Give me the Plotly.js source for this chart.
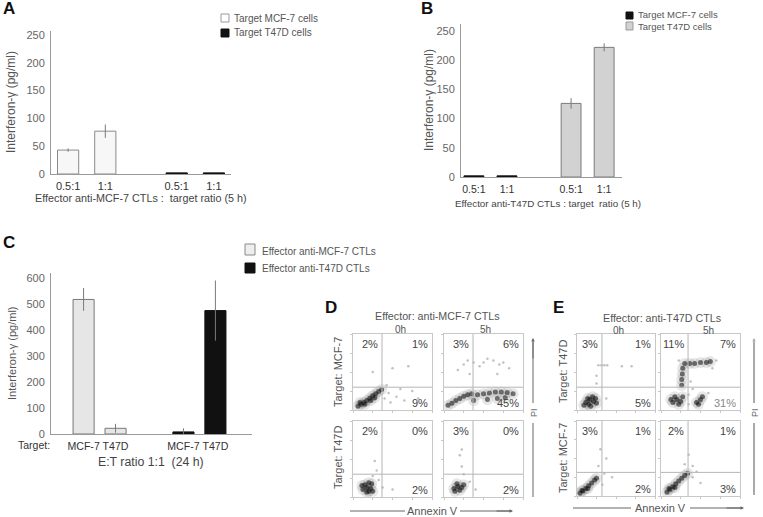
<!DOCTYPE html>
<html><head><meta charset="utf-8">
<script src="https://cdn.plot.ly/plotly-3.0.1.min.js"></script>
<style>html,body{margin:0;padding:0;background:#fff}#chart{width:763px;height:517px}</style>
</head><body><div id="chart"></div>
<script>
// ---------------- data ----------------
const ratioLabels = ["0.5:1", "1:1"];
const aTargetMCF7 = [43, 77];
const aTargetMCF7Err = [3, 12];
const aTargetT47D = [2, 2];
const bTargetMCF7 = [2, 2];
const bTargetT47D = [126, 222];
const bTargetT47DErr = [9, 7];
const targetLabels = ["MCF-7", "T47D"];
const cAntiMCF7 = [519, 22];
const cAntiMCF7Err = [44, 17];
const cAntiT47D = [8, 476];
const cAntiT47DErr = [14, 116];
const yTicksAB = [0, 50, 100, 150, 200, 250];
const yTicksC = [0, 100, 200, 300, 400, 500, 600];

// flow cytometry quadrant percentages [upper-left, upper-right, lower-right]
const dMCF7_0h = ["2%", "1%", "9%"];
const dMCF7_5h = ["3%", "6%", "45%"];
const dT47D_0h = ["2%", "0%", "2%"];
const dT47D_5h = ["3%", "0%", "2%"];
const eT47D_0h = ["3%", "1%", "5%"];
const eT47D_5h = ["11%", "7%", "31%"];
const eMCF7_0h = ["3%", "1%", "2%"];
const eMCF7_5h = ["2%", "1%", "3%"];

// approximate event clusters (log decades 0-4)
const dMCF7_0hDense = [[0.25,0.2],[0.4,0.3],[0.55,0.4],[0.7,0.5],[0.85,0.62],[1.0,0.75],[1.15,0.85],[1.3,0.98],[1.45,1.08],[0.35,0.4],[0.6,0.3],[0.9,0.5],[1.1,0.65]];
const dMCF7_0hFaint = [[1.8,0.9],[2.2,0.7],[2.6,0.5],[1.7,1.3],[2.0,2.2],[2.8,2.3],[1.0,2.0],[3.0,1.0],[2.4,1.1],[1.6,0.6],[1.9,0.4],[3.3,0.6]];
const dMCF7_5hDense = [[0.2,0.25],[0.4,0.35],[0.6,0.5],[0.8,0.6],[1.0,0.72],[1.2,0.8],[1.4,0.85],[1.7,0.8],[2.0,0.85],[2.3,0.9],[2.6,0.95],[2.9,0.95],[3.2,0.92],[3.5,0.85],[2.2,0.55],[2.7,0.6],[1.5,0.5],[3.1,0.65]];
const dMCF7_5hFaint = [[1.0,2.4],[1.5,2.5],[2.0,2.5],[2.5,2.6],[3.0,2.5],[0.7,2.1],[3.3,2.2],[1.3,1.9],[2.7,1.9],[1.2,2.6],[2.2,2.7],[1.8,2.3],[2.8,2.4]];
const dT47D_0hDense = [[0.5,0.4],[0.7,0.5],[0.9,0.45],[0.6,0.65],[0.8,0.3],[0.95,0.7],[0.7,0.25],[0.45,0.6],[0.8,0.75],[1.0,0.3]];
const dT47D_0hFaint = [[1.2,1.4],[1.1,1.9],[1.5,0.5],[1.3,0.9],[2.0,0.4],[1.0,1.1]];
const dT47D_5hDense = [[0.5,0.45],[0.7,0.55],[0.9,0.5],[0.65,0.7],[0.8,0.35],[1.0,0.65],[0.55,0.3]];
const dT47D_5hFaint = [[0.9,1.6],[0.8,2.2],[1.3,0.8],[1.0,1.2],[1.6,0.4],[0.9,2.5]];
const eT47D_0hDense = [[0.45,0.4],[0.65,0.55],[0.85,0.45],[0.6,0.3],[0.8,0.7],[1.0,0.35],[0.55,0.6],[0.35,0.25],[0.95,0.6],[0.7,0.2]];
const eT47D_0hFaint = [[1.1,2.35],[1.25,2.35],[1.4,2.35],[1.55,2.35],[1.0,1.4],[2.3,2.3],[2.8,2.3],[1.5,0.6],[1.0,1.8]];
const eT47D_5hDense = [[0.6,0.4],[0.8,0.55],[1.0,0.45],[0.7,0.7],[0.9,0.3],[0.5,0.55],[1.1,0.7],[1.8,0.4],[2.0,0.55],[1.9,0.3],[2.1,0.7],[1.05,1.3],[1.05,1.6],[1.08,1.9],[1.1,2.2],[1.2,2.45],[1.45,2.45],[1.7,2.45],[2.0,2.5],[2.3,2.5],[2.5,2.55]];
const eT47D_5hFaint = [[1.4,0.8],[2.4,0.9],[1.5,1.5],[0.9,2.6],[2.6,2.2],[1.4,0.3],[1.6,1.1],[2.8,2.6]];
const eMCF7_0hDense = [[0.15,0.15],[0.3,0.27],[0.45,0.4],[0.6,0.55],[0.75,0.7],[0.9,0.85],[1.0,0.95],[0.25,0.3],[0.55,0.4]];
const eMCF7_0hFaint = [[1.4,1.2],[1.5,2.0],[1.2,2.5],[1.8,1.0],[1.1,1.6],[1.3,0.6]];
const eMCF7_5hDense = [[0.3,0.2],[0.45,0.35],[0.6,0.5],[0.75,0.65],[0.9,0.8],[1.05,0.95],[1.2,1.1],[1.35,1.22],[0.4,0.4],[0.7,0.45]];
const eMCF7_5hFaint = [[1.6,1.0],[1.8,1.3],[1.4,2.2],[2.0,0.7],[1.2,1.7],[1.6,1.6]];

// ---------------- helpers ----------------
const W = 763, H = 517;
const px = v => v / W;
const py = v => 1 - v / H;
const SANS = 'Liberation Sans, Arial, sans-serif';
const GRAY = '#555';

const traces = [];
const annotations = [];
const shapes = [];
const layout = {
  width: W, height: H, margin: {l: 0, r: 0, t: 0, b: 0},
  paper_bgcolor: '#fff', plot_bgcolor: 'rgba(0,0,0,0)',
  barmode: 'overlay', showlegend: false,
  font: {family: SANS, color: GRAY}
};

function text(x, y, t, size, opts) {
  annotations.push(Object.assign({
    xref: 'paper', yref: 'paper', x: px(x), y: py(y), text: t, showarrow: false,
    font: {family: SANS, size: size, color: GRAY}, xanchor: 'center', yanchor: 'middle'
  }, opts || {}));
}
function fnt(size, color) { return {family: SANS, size: size, color: color || GRAY}; }
function legendBox(x0, y0, x1, y1, fill, line) {
  shapes.push({type: 'rect', xref: 'paper', yref: 'paper', x0: px(x0), x1: px(x1), y0: py(y1), y1: py(y0),
    fillcolor: fill, line: {color: line, width: 1}});
}

function barPanel(id, xdom, ydom, xrange, yrange, ytickvals, labels, gap, xfont) {
  const sfx = id === 1 ? '' : String(id);
  const tv = [], tt = [];
  [0, 1].forEach(g => labels.forEach((l, i) => { tv.push(i + g * gap); tt.push(l); }));
  layout['xaxis' + sfx] = {
    domain: [px(xdom[0]), px(xdom[1])], range: xrange, anchor: 'y' + sfx,
    tickvals: tv, ticktext: tt, tickangle: 0, showline: true, linecolor: '#9a9a9a', linewidth: 1,
    showgrid: false, zeroline: false, ticks: 'outside', ticklen: 2, tickcolor: 'rgba(0,0,0,0)',
    tickfont: fnt(xfont, '#333'), fixedrange: true
  };
  layout['yaxis' + sfx] = {
    domain: [py(ydom[1]), py(ydom[0])], range: yrange, anchor: 'x' + sfx,
    tickvals: ytickvals, showline: true, linecolor: '#9a9a9a', linewidth: 1,
    showgrid: false, zeroline: false, ticks: 'outside', ticklen: 3, tickcolor: 'rgba(0,0,0,0)',
    tickfont: fnt(11, '#666'), fixedrange: true
  };
  return {x: 'x' + sfx, y: 'y' + sfx};
}

function bars(ax, group, gap, labels, vals, errs, fill, line, width) {
  const t = {
    type: 'bar', xaxis: ax.x, yaxis: ax.y,
    x: labels.map((l, i) => i + group * gap), y: vals, width: width,
    marker: {color: fill, line: {color: line, width: 1}},
    hoverinfo: 'skip'
  };
  if (errs) t.error_y = {type: 'data', array: errs, visible: true, color: '#7a7a7a', thickness: 1, width: 0};
  traces.push(t);
}

// ---------------- panel A ----------------
const GAP_A = 2.92;
const axA = barPanel(1, [51, 231], [31, 174], [-0.46, 4.38], [0, 257], yTicksAB, ratioLabels, GAP_A, 11);
bars(axA, 0, GAP_A, ratioLabels, aTargetMCF7, aTargetMCF7Err, '#f7f7f7', '#8a8a8a', 0.57);
bars(axA, 1, GAP_A, ratioLabels, aTargetT47D, null, '#111', '#111', 0.57);
text(9, 8, '<b>A</b>', 17, {font: fnt(17, '#111')});
text(11, 102, 'Interferon-γ (pg/ml)', 12, {textangle: -90});
text(141, 198, 'Effector anti-MCF-7 CTLs :  target ratio (5 h)', 11, {font: fnt(10.8, '#444')});
legendBox(221, 14, 229, 22, '#fff', '#999');
legendBox(221, 29, 229, 37, '#111', '#111');
text(232, 18, 'Target MCF-7 cells', 10, {xanchor: 'left', font: fnt(10)});
text(232, 33, 'Target T47D cells', 10, {xanchor: 'left', font: fnt(10)});

// ---------------- panel B ----------------
const GAP_B = 2.94;
const axB = barPanel(2, [461, 622], [24, 177], [-0.39, 4.48], [0, 262], yTicksAB, ratioLabels, GAP_B, 10.5);
bars(axB, 0, GAP_B, ratioLabels, bTargetMCF7, null, '#111', '#111', 0.6);
bars(axB, 1, GAP_B, ratioLabels, bTargetT47D, bTargetT47DErr, '#d2d2d2', '#7a7a7a', 0.6);
text(427, 8, '<b>B</b>', 17, {font: fnt(17, '#111')});
text(429, 100, 'Interferon-γ (pg/ml)', 12, {textangle: -90});
text(548, 203, 'Effector anti-T47D CTLs : target  ratio (5 h)', 10, {font: fnt(9.8, '#444')});
legendBox(626, 12, 633, 19, '#111', '#111');
legendBox(626, 22, 633, 30, '#d2d2d2', '#999');
text(636, 15, 'Target MCF-7 cells', 9.5, {xanchor: 'left', font: fnt(9.5)});
text(636, 27, 'Target T47D cells', 9.5, {xanchor: 'left', font: fnt(9.5)});

// ---------------- panel C ----------------
const GAP_C = 3.125;
const axC = barPanel(3, [51, 252], [273, 434], [-1.02, 5.27], [0, 621], yTicksC, targetLabels, GAP_C, 10.6);
bars(axC, 0, GAP_C, targetLabels, cAntiMCF7, cAntiMCF7Err, '#e6e6e6', '#777', 0.66);
bars(axC, 1, GAP_C, targetLabels, cAntiT47D, cAntiT47DErr, '#111', '#111', 0.66);
text(9, 243, '<b>C</b>', 17, {font: fnt(17, '#111')});
text(12, 353, 'Interferon-γ (pg/ml)', 11, {textangle: -90});
text(34, 445, 'Target:', 10.5, {font: fnt(10.5, '#333')});
text(151, 462, 'E:T ratio 1:1  (24 h)', 12, {font: fnt(12.3, '#444')});
legendBox(245, 244, 255, 255, '#eeeeee', '#888');
legendBox(245, 263, 255, 273, '#111', '#111');
text(260, 251, 'Effector anti-MCF-7 CTLs', 10, {xanchor: 'left', font: fnt(10)});
text(260, 268, 'Effector anti-T47D CTLs', 10, {xanchor: 'left', font: fnt(10)});

// ---------------- panels D / E (flow cytometry) ----------------
const flowPanels = [
  {dom: [353, 432, 334, 410], vx: 1.47, hy: 1.2, pct: dMCF7_0h, dense: dMCF7_0hDense, faint: dMCF7_0hFaint},
  {dom: [444, 523, 334, 410], vx: 1.47, hy: 1.2, pct: dMCF7_5h, dense: dMCF7_5hDense, faint: dMCF7_5hFaint},
  {dom: [353, 432, 421, 497], vx: 1.47, hy: 1.2, pct: dT47D_0h, dense: dT47D_0hDense, faint: dT47D_0hFaint},
  {dom: [444, 523, 421, 497], vx: 1.47, hy: 1.2, pct: dT47D_5h, dense: dT47D_5hDense, faint: dT47D_5hFaint},
  {dom: [577, 655, 334, 410], vx: 1.28, hy: 1.2, pct: eT47D_0h, dense: eT47D_0hDense, faint: eT47D_0hFaint},
  {dom: [661, 740, 334, 410], vx: 1.37, hy: 1.2, pct: eT47D_5h, dense: eT47D_5hDense, faint: eT47D_5hFaint, lrColor: '#888'},
  {dom: [577, 655, 421, 496], vx: 1.28, hy: 1.26, pct: eMCF7_0h, dense: eMCF7_0hDense, faint: eMCF7_0hFaint},
  {dom: [661, 740, 421, 496], vx: 1.37, hy: 1.26, pct: eMCF7_5h, dense: eMCF7_5hDense, faint: eMCF7_5hFaint}
];
flowPanels.forEach((p, k) => {
  const n = k + 4;
  const xa = 'x' + n, ya = 'y' + n;
  const common = {range: [0, 4], showline: true, mirror: true, linecolor: '#c8c8c8', linewidth: 1,
    showgrid: false, zeroline: false, ticks: 'outside', ticklen: 2, tickcolor: '#c8c8c8',
    tickvals: [0, 1, 2, 3, 4], showticklabels: false, fixedrange: true};
  layout['xaxis' + n] = Object.assign({domain: [px(p.dom[0]), px(p.dom[1])], anchor: ya}, common);
  layout['yaxis' + n] = Object.assign({domain: [py(p.dom[3]), py(p.dom[2])], anchor: xa}, common);
  const dx = p.dense.map(d => d[0]), dy = p.dense.map(d => d[1]);
  // soft halo around the dense events
  traces.push({type: 'scatter', mode: 'markers', xaxis: xa, yaxis: ya, hoverinfo: 'skip',
    x: dx, y: dy, marker: {size: 11, color: 'rgba(60,60,60,0.12)', line: {width: 0}}});
  traces.push({type: 'scatter', mode: 'markers', xaxis: xa, yaxis: ya, hoverinfo: 'skip',
    x: p.faint.map(d => d[0]), y: p.faint.map(d => d[1]),
    marker: {size: 2.5, color: 'rgba(130,130,130,0.5)'}});
  traces.push({type: 'scatter', mode: 'markers', xaxis: xa, yaxis: ya, hoverinfo: 'skip',
    x: dx, y: dy, marker: {size: 5, color: 'rgba(15,15,15,0.55)', line: {width: 0}}});
  shapes.push({type: 'line', xref: xa, yref: ya, x0: p.vx, x1: p.vx, y0: 0, y1: 4, line: {color: '#b5b5b5', width: 1}});
  shapes.push({type: 'line', xref: xa, yref: ya, x0: 0, x1: 4, y0: p.hy, y1: p.hy, line: {color: '#b5b5b5', width: 1}});
  const f = fnt(11, '#444');
  annotations.push({xref: xa, yref: ya, x: p.vx - 0.12, y: 3.45, text: p.pct[0], showarrow: false, xanchor: 'right', font: f});
  annotations.push({xref: xa, yref: ya, x: 3.92, y: 3.45, text: p.pct[1], showarrow: false, xanchor: 'right', font: f});
  annotations.push({xref: xa, yref: ya, x: 3.92, y: 0.38, text: p.pct[2], showarrow: false, xanchor: 'right',
    font: fnt(11, p.lrColor || '#444')});
});

text(331, 307, '<b>D</b>', 17, {font: fnt(17, '#111')});
text(558, 307, '<b>E</b>', 17, {font: fnt(17, '#111')});
text(437, 316, 'Effector: anti-MCF-7 CTLs', 10.7, {font: fnt(10.7)});
text(662, 318, 'Effector: anti-T47D CTLs', 10.7, {font: fnt(10.7)});
text(400, 329, '0h', 10, {font: fnt(10)});
text(485, 329, '5h', 10, {font: fnt(10)});
text(618, 330, '0h', 10, {font: fnt(10)});
text(708, 330, '5h', 10, {font: fnt(10)});
text(338, 372, 'Target: MCF-7', 11, {textangle: -90});
text(338, 458, 'Target: T47D', 11, {textangle: -90});
text(563, 372, 'Target: T47D', 11, {textangle: -90});
text(563, 458, 'Target: MCF-7', 11, {textangle: -90});

// PI / Annexin V axis arrows
function vline(x, y0, y1, color, w) {
  shapes.push({type: 'line', xref: 'paper', yref: 'paper', x0: px(x), x1: px(x), y0: py(y0), y1: py(y1), line: {color: color, width: w}});
}
function hline(x0, x1, y, color, w) {
  shapes.push({type: 'line', xref: 'paper', yref: 'paper', x0: px(x0), x1: px(x1), y0: py(y), y1: py(y), line: {color: color, width: w}});
}
function arrowHead(x, y, ax, ay, color) {
  annotations.push({xref: 'paper', yref: 'paper', axref: 'paper', ayref: 'paper', x: px(x), y: py(y), ax: px(ax), ay: py(ay),
    text: '', showarrow: true, arrowhead: 2, arrowsize: 0.7, arrowwidth: 1, arrowcolor: color});
}
vline(533, 342, 403, '#666', 1);
arrowHead(533, 338, 533, 360, '#666');
vline(533, 423, 497, '#666', 1);
text(534, 413, 'PI', 9, {textangle: -90, font: fnt(9, '#666')});
vline(754, 342, 403, '#aaa', 2);
arrowHead(754, 338, 754, 360, '#aaa');
vline(754, 423, 495, '#aaa', 2);
text(755, 413, 'PI', 9, {textangle: -90, font: fnt(9, '#666')});

hline(350, 405, 511, '#666', 1);
hline(460, 510, 511, '#666', 1);
arrowHead(513, 511, 495, 511, '#666');
text(432, 511, 'Annexin V', 11, {font: fnt(11)});
hline(573, 631, 508, '#666', 1);
hline(690, 741, 508, '#666', 1);
arrowHead(744, 508, 725, 508, '#666');
text(660, 508, 'Annexin V', 11, {font: fnt(11)});

layout.annotations = annotations;
layout.shapes = shapes;
Plotly.newPlot('chart', traces, layout, {staticPlot: true, displayModeBar: false});
</script></body></html>
